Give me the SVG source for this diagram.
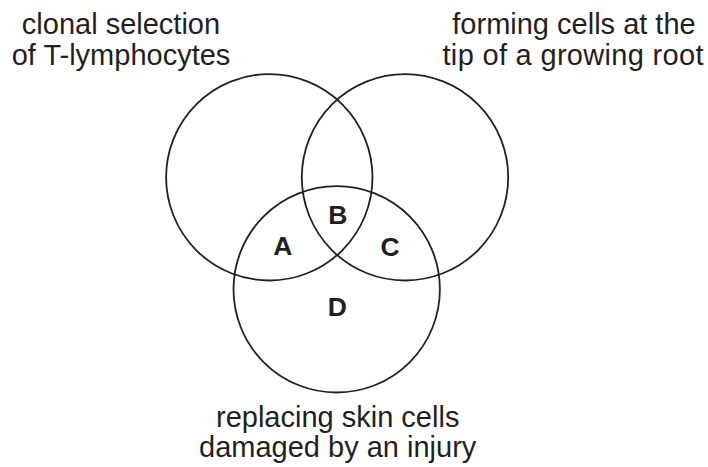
<svg xmlns="http://www.w3.org/2000/svg" width="708" height="467" viewBox="0 0 708 467">
<style>
.c{fill:none;stroke:#231f20;stroke-width:1.8}
.t{font-family:"Liberation Sans",Arial,sans-serif;font-size:29px;fill:#231f20;text-anchor:middle}
.l{font-family:"Liberation Sans",Arial,sans-serif;font-size:26.5px;font-weight:bold;fill:#231f20;text-anchor:middle}
</style>
<rect width="708" height="467" fill="#fff"/>
<g id="set-left">
<circle class="c" cx="269.3" cy="177.3" r="103.2"/>
<text class="t" x="121" y="34">clonal selection</text>
<text class="t" x="121" y="65">of T-lymphocytes</text>
</g>
<g id="set-right">
<circle class="c" cx="405" cy="177.3" r="103.2"/>
<text class="t" x="574" y="34">forming cells at the</text>
<text class="t" x="573" y="65" textLength="261" lengthAdjust="spacing">tip of a growing root</text>
</g>
<g id="set-bottom">
<circle class="c" cx="336.7" cy="289.3" r="103.2"/>
<text class="t" x="337.7" y="427">replacing skin cells</text>
<text class="t" x="337.7" y="457">damaged by an injury</text>
</g>
<g id="region-A"><text class="l" x="282.8" y="255">A</text></g>
<g id="region-B"><text class="l" x="337.8" y="224.3">B</text></g>
<g id="region-C"><text class="l" x="390" y="255.5">C</text></g>
<g id="region-D"><text class="l" x="337.2" y="315.7">D</text></g>
<g id="connectors"></g>
</svg>
